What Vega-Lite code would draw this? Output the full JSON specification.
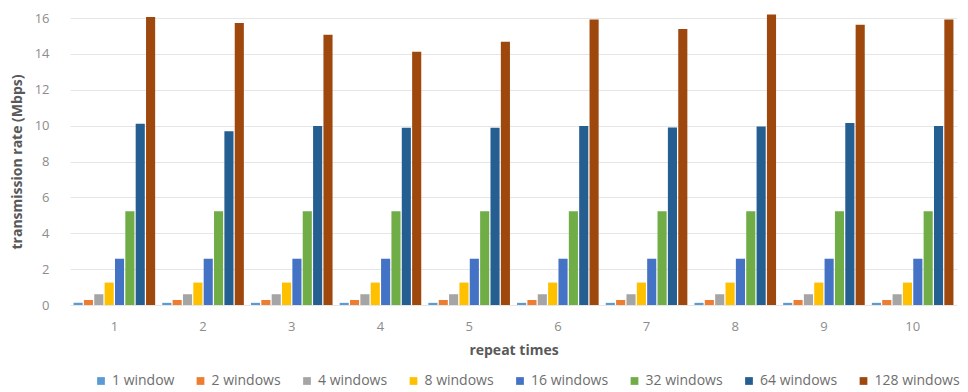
{
  "$schema": "https://vega.github.io/schema/vega-lite/v6.json",
  "width": 887,
  "height": 287,
  "autosize": {"type": "none"},
  "padding": {"left": 70, "top": 18, "right": 11, "bottom": 87},
  "background": "white",
  "config": {
    "view": {"stroke": null},
    "font": "Open Sans"
  },
  "data": {
    "values": [
      {"repeat": "1", "windows": "1 window", "rate": 0.12},
      {"repeat": "1", "windows": "2 windows", "rate": 0.28},
      {"repeat": "1", "windows": "4 windows", "rate": 0.6},
      {"repeat": "1", "windows": "8 windows", "rate": 1.25},
      {"repeat": "1", "windows": "16 windows", "rate": 2.58},
      {"repeat": "1", "windows": "32 windows", "rate": 5.22},
      {"repeat": "1", "windows": "64 windows", "rate": 10.1},
      {"repeat": "1", "windows": "128 windows", "rate": 16.05},
      {"repeat": "2", "windows": "1 window", "rate": 0.12},
      {"repeat": "2", "windows": "2 windows", "rate": 0.28},
      {"repeat": "2", "windows": "4 windows", "rate": 0.6},
      {"repeat": "2", "windows": "8 windows", "rate": 1.25},
      {"repeat": "2", "windows": "16 windows", "rate": 2.58},
      {"repeat": "2", "windows": "32 windows", "rate": 5.22},
      {"repeat": "2", "windows": "64 windows", "rate": 9.68},
      {"repeat": "2", "windows": "128 windows", "rate": 15.72},
      {"repeat": "3", "windows": "1 window", "rate": 0.12},
      {"repeat": "3", "windows": "2 windows", "rate": 0.28},
      {"repeat": "3", "windows": "4 windows", "rate": 0.6},
      {"repeat": "3", "windows": "8 windows", "rate": 1.25},
      {"repeat": "3", "windows": "16 windows", "rate": 2.58},
      {"repeat": "3", "windows": "32 windows", "rate": 5.22},
      {"repeat": "3", "windows": "64 windows", "rate": 9.98},
      {"repeat": "3", "windows": "128 windows", "rate": 15.07},
      {"repeat": "4", "windows": "1 window", "rate": 0.12},
      {"repeat": "4", "windows": "2 windows", "rate": 0.28},
      {"repeat": "4", "windows": "4 windows", "rate": 0.6},
      {"repeat": "4", "windows": "8 windows", "rate": 1.25},
      {"repeat": "4", "windows": "16 windows", "rate": 2.58},
      {"repeat": "4", "windows": "32 windows", "rate": 5.22},
      {"repeat": "4", "windows": "64 windows", "rate": 9.88},
      {"repeat": "4", "windows": "128 windows", "rate": 14.12},
      {"repeat": "5", "windows": "1 window", "rate": 0.12},
      {"repeat": "5", "windows": "2 windows", "rate": 0.28},
      {"repeat": "5", "windows": "4 windows", "rate": 0.6},
      {"repeat": "5", "windows": "8 windows", "rate": 1.25},
      {"repeat": "5", "windows": "16 windows", "rate": 2.58},
      {"repeat": "5", "windows": "32 windows", "rate": 5.22},
      {"repeat": "5", "windows": "64 windows", "rate": 9.88},
      {"repeat": "5", "windows": "128 windows", "rate": 14.68},
      {"repeat": "6", "windows": "1 window", "rate": 0.12},
      {"repeat": "6", "windows": "2 windows", "rate": 0.28},
      {"repeat": "6", "windows": "4 windows", "rate": 0.6},
      {"repeat": "6", "windows": "8 windows", "rate": 1.25},
      {"repeat": "6", "windows": "16 windows", "rate": 2.58},
      {"repeat": "6", "windows": "32 windows", "rate": 5.22},
      {"repeat": "6", "windows": "64 windows", "rate": 9.98},
      {"repeat": "6", "windows": "128 windows", "rate": 15.92},
      {"repeat": "7", "windows": "1 window", "rate": 0.12},
      {"repeat": "7", "windows": "2 windows", "rate": 0.28},
      {"repeat": "7", "windows": "4 windows", "rate": 0.6},
      {"repeat": "7", "windows": "8 windows", "rate": 1.25},
      {"repeat": "7", "windows": "16 windows", "rate": 2.58},
      {"repeat": "7", "windows": "32 windows", "rate": 5.22},
      {"repeat": "7", "windows": "64 windows", "rate": 9.9},
      {"repeat": "7", "windows": "128 windows", "rate": 15.38},
      {"repeat": "8", "windows": "1 window", "rate": 0.12},
      {"repeat": "8", "windows": "2 windows", "rate": 0.28},
      {"repeat": "8", "windows": "4 windows", "rate": 0.6},
      {"repeat": "8", "windows": "8 windows", "rate": 1.25},
      {"repeat": "8", "windows": "16 windows", "rate": 2.58},
      {"repeat": "8", "windows": "32 windows", "rate": 5.22},
      {"repeat": "8", "windows": "64 windows", "rate": 9.95},
      {"repeat": "8", "windows": "128 windows", "rate": 16.2},
      {"repeat": "9", "windows": "1 window", "rate": 0.12},
      {"repeat": "9", "windows": "2 windows", "rate": 0.28},
      {"repeat": "9", "windows": "4 windows", "rate": 0.6},
      {"repeat": "9", "windows": "8 windows", "rate": 1.25},
      {"repeat": "9", "windows": "16 windows", "rate": 2.58},
      {"repeat": "9", "windows": "32 windows", "rate": 5.22},
      {"repeat": "9", "windows": "64 windows", "rate": 10.15},
      {"repeat": "9", "windows": "128 windows", "rate": 15.62},
      {"repeat": "10", "windows": "1 window", "rate": 0.12},
      {"repeat": "10", "windows": "2 windows", "rate": 0.28},
      {"repeat": "10", "windows": "4 windows", "rate": 0.6},
      {"repeat": "10", "windows": "8 windows", "rate": 1.25},
      {"repeat": "10", "windows": "16 windows", "rate": 2.58},
      {"repeat": "10", "windows": "32 windows", "rate": 5.22},
      {"repeat": "10", "windows": "64 windows", "rate": 9.98},
      {"repeat": "10", "windows": "128 windows", "rate": 15.92}
    ]
  },
  "mark": {"type": "bar", "strokeWidth": 0.6},
  "encoding": {
    "x": {
      "field": "repeat",
      "type": "ordinal",
      "sort": ["1","2","3","4","5","6","7","8","9","10"],
      "scale": {"paddingInner": 0.08, "paddingOuter": 0.04},
      "axis": {
        "title": "repeat times",
        "titleFont": "Open Sans",
        "titleFontSize": 14,
        "titleFontWeight": "bold",
        "titleColor": "#595959",
        "titlePadding": 10,
        "labelAngle": 0,
        "labelFontSize": 13,
        "labelColor": "#8c8c8c",
        "labelPadding": 15,
        "ticks": false,
        "domain": false
      }
    },
    "xOffset": {
      "field": "windows",
      "type": "nominal",
      "sort": ["1 window","2 windows","4 windows","8 windows","16 windows","32 windows","64 windows","128 windows"],
      "scale": {"paddingInner": 0.12}
    },
    "y": {
      "field": "rate",
      "type": "quantitative",
      "scale": {"domain": [0, 16], "nice": false},
      "axis": {
        "title": "transmission rate (Mbps)",
        "titleFont": "Open Sans",
        "titleFontSize": 14,
        "titleFontWeight": "bold",
        "titleColor": "#595959",
        "titlePadding": 10,
        "values": [0,2,4,6,8,10,12,14,16],
        "labelFontSize": 13,
        "labelColor": "#8c8c8c",
        "labelPadding": 21,
        "ticks": false,
        "domain": false,
        "gridColor": "#e6e6e6",
        "gridWidth": 1
      }
    },
    "color": {
      "field": "windows",
      "type": "nominal",
      "sort": ["1 window","2 windows","4 windows","8 windows","16 windows","32 windows","64 windows","128 windows"],
      "scale": {
        "domain": ["1 window","2 windows","4 windows","8 windows","16 windows","32 windows","64 windows","128 windows"],
        "range": ["#5B9BD5","#ED7D31","#A5A5A5","#FFC000","#4472C4","#70AD47","#255E91","#9E480E"]
      },
      "legend": {
        "orient": "none",
        "legendX": 24,
        "legendY": 356,
        "direction": "horizontal",
        "title": null,
        "symbolType": "square",
        "symbolSize": 60,
        "labelFontSize": 14,
        "labelColor": "#6e6e6e",
        "labelFont": "Open Sans",
        "labelOffset": 4,
        "columnPadding": 18.5,
        "symbolOffset": 0
      }
    }
  }
}
